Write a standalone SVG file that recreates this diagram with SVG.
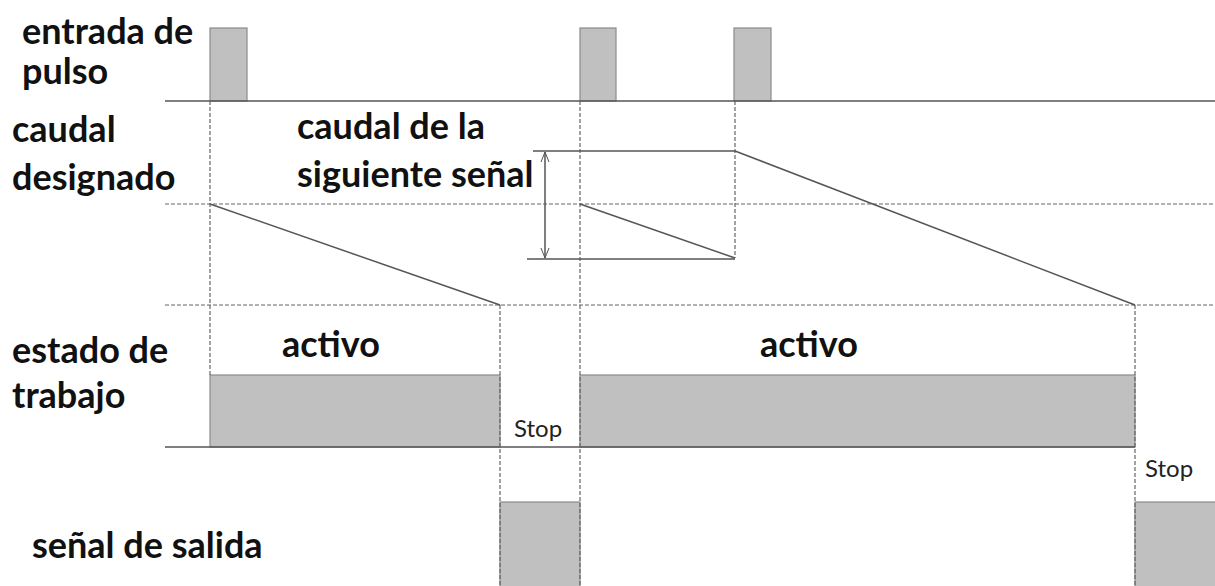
<svg xmlns="http://www.w3.org/2000/svg" width="1215" height="586" viewBox="0 0 1215 586">
<style>
.lbl{font-family:Lato,"Open Sans","Liberation Sans",sans-serif;font-weight:bold;font-size:36px;fill:#111}
.stop{font-family:Lato,"Open Sans","Liberation Sans",sans-serif;font-size:24px;fill:#222}
.fill{fill:#c0c0c0;stroke:#8a8a8a;stroke-width:1.2}
.solid{stroke:#555;stroke-width:1.5;fill:none}
.dash{stroke:#666;stroke-width:1.2;stroke-dasharray:4 2;fill:none}
</style>
<defs>
<marker id="open" viewBox="0 0 10 10" refX="10" refY="5" markerWidth="10" markerHeight="10" orient="auto-start-reverse" markerUnits="userSpaceOnUse">
<path d="M0,1 L10,5 L0,9" fill="none" stroke="#555" stroke-width="1"/>
</marker>
</defs>
<rect width="1215" height="586" fill="#fff"/>

<g id="pulses">
<rect class="fill" x="210" y="28" width="37" height="73"/>
<rect class="fill" x="580" y="28" width="36" height="73"/>
<rect class="fill" x="734" y="28" width="37" height="73"/>
</g>

<g id="work-state">
<rect class="fill" x="210" y="375" width="290" height="72"/>
<rect class="fill" x="580" y="375" width="555" height="72"/>
</g>

<g id="output-signal">
<rect class="fill" x="500" y="502" width="80" height="90"/>
<rect class="fill" x="1135" y="502" width="85" height="90"/>
</g>

<g id="connectors">
<line class="solid" x1="165" y1="101" x2="1215" y2="101"/>
<line class="solid" x1="165" y1="447" x2="1135" y2="447"/>
<line class="dash" x1="165" y1="204" x2="1215" y2="204"/>
<line class="dash" x1="165" y1="305" x2="1215" y2="305"/>
<line class="dash" x1="210" y1="101" x2="210" y2="375"/>
<line class="dash" x1="580" y1="101" x2="580" y2="586"/>
<line class="dash" x1="735" y1="101" x2="735" y2="258"/>
<line class="dash" x1="500" y1="305" x2="500" y2="586"/>
<line class="dash" x1="1135" y1="305" x2="1135" y2="586"/>
<line class="solid" x1="210" y1="204" x2="500" y2="305"/>
<line class="solid" x1="580" y1="204" x2="735" y2="258"/>
<line class="solid" x1="735" y1="151" x2="1135" y2="305"/>
<line class="solid" x1="533" y1="151" x2="735" y2="151"/>
<line class="solid" x1="527" y1="259" x2="735" y2="259"/>
<line class="solid" x1="545" y1="152" x2="545" y2="258" marker-start="url(#open)" marker-end="url(#open)"/>
</g>

<g id="labels">
<text class="lbl" x="22" y="44">entrada de</text>
<text class="lbl" x="22" y="84">pulso</text>
<text class="lbl" x="12" y="142">caudal</text>
<text class="lbl" x="12" y="190">designado</text>
<text class="lbl" x="297" y="139">caudal de la</text>
<text class="lbl" x="297" y="187">siguiente señal</text>
<text class="lbl" x="12" y="363">estado de</text>
<text class="lbl" x="12" y="408">trabajo</text>
<text class="lbl" x="282" y="357">activo</text>
<text class="lbl" x="760" y="357">activo</text>
<text class="lbl" x="32" y="558">señal de salida</text>
<text class="stop" x="514" y="437">Stop</text>
<text class="stop" x="1145" y="477">Stop</text>
</g>
</svg>
